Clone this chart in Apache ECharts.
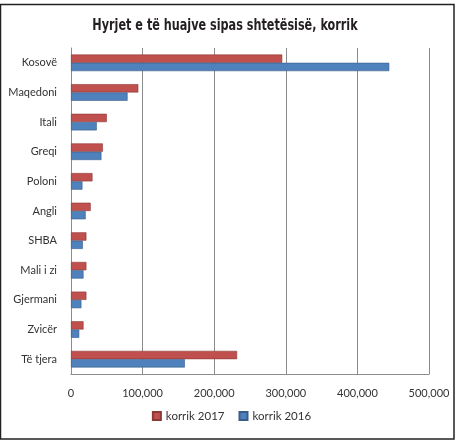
<!DOCTYPE html>
<html>
<head>
<meta charset="utf-8">
<script src="https://cdn.jsdelivr.net/npm/echarts@6/dist/echarts.min.js"></script>
<style>
html,body{margin:0;padding:0;background:#fff;}
#c{width:463px;height:443px;}
</style>
</head>
<body>
<div id="c"></div>
<script>
const titleText = 'Hyrjet e të huajve sipas shtetësisë, korrik';
const categories = ['Kosovë','Maqedoni','Itali','Greqi','Poloni','Angli','SHBA','Mali i zi','Gjermani','Zvicër','Të tjera'];
const seriesNames = ['korrik 2017','korrik 2016'];
const values2017 = [295000, 94000, 50000, 44500, 30000, 27500, 21500, 21500, 21500, 17500, 232000];
const values2016 = [444500, 79000, 36000, 42500, 16000, 20500, 16500, 17500, 14500, 11500, 159000];
const xTicks = [0, 100000, 200000, 300000, 400000, 500000];

const chart = echarts.init(document.getElementById('c'));
const labelFont = 'Lato, "Open Sans", "DejaVu Sans", sans-serif';
chart.setOption({
  animation: false,
  backgroundColor: '#fff',
  graphic: [{
    type: 'rect',
    shape: {x: 0.5, y: 4.5, width: 453.5, height: 434.5},
    style: {fill: 'none', stroke: '#222', lineWidth: 1.5},
    silent: true
  }, {
    type: 'text',
    x: 225, y: 26,
    scaleX: 0.78,
    silent: true,
    style: {
      text: titleText,
      x: 0, y: 0,
      align: 'center', verticalAlign: 'middle',
      fontFamily: '"DejaVu Sans Condensed", "Liberation Sans Narrow", sans-serif',
      fontWeight: 'bold', fontSize: 16, fill: '#231f20'
    }
  }],
  legend: {
    bottom: 16,
    left: 'center',
    itemWidth: 8, itemHeight: 8,
    itemGap: 14,
    icon: 'rect',
    textStyle: {fontFamily: labelFont, fontSize: 11.5, color: '#333'},
    data: seriesNames
  },
  grid: {left: 71, right: 34, top: 48, bottom: 69, containLabel: false},
  xAxis: {
    type: 'value',
    min: xTicks[0], max: xTicks[xTicks.length-1], interval: 100000,
    axisLine: {show: true, onZero: false, lineStyle: {color: '#8c8c8c', width: 1}},
    axisTick: {show: false},
    splitLine: {show: true, lineStyle: {color: '#8c8c8c', width: 1}},
    axisLabel: {
      margin: 14,
      fontFamily: labelFont, fontSize: 11, color: '#333',
      formatter: v => v.toLocaleString('en-US')
    }
  },
  yAxis: {
    type: 'category',
    inverse: true,
    data: categories,
    axisLine: {show: true, lineStyle: {color: '#8c8c8c', width: 1}},
    axisTick: {show: false},
    axisLabel: {margin: 14, fontFamily: labelFont, fontSize: 11, color: '#333'}
  },
  series: [
    {name: seriesNames[0], type: 'bar', data: values2017, barGap: '0%', barCategoryGap: '44%',
     itemStyle: {color: '#c0504d', borderColor: '#8c3836', borderWidth: 0.6}},
    {name: seriesNames[1], type: 'bar', data: values2016, barGap: '0%', barCategoryGap: '44%',
     itemStyle: {color: '#4f81bd', borderColor: '#385d8a', borderWidth: 0.6}}
  ]
});
</script>
</body>
</html>
